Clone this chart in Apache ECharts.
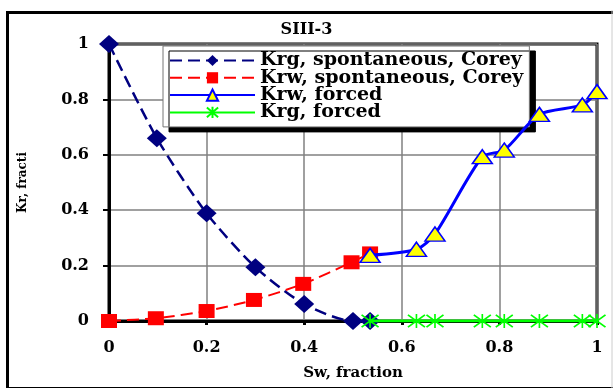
<!DOCTYPE html>
<html><head><meta charset="utf-8">
<script src="https://cdn.jsdelivr.net/npm/echarts@6/dist/echarts.min.js"></script>
<style>html,body{margin:0;padding:0;background:#fff}#c{width:613px;height:388px}</style>
</head><body><div id="c"></div>
<script>
var titleText = 'SIII-3';
var xName = 'Sw, fraction';
var yName = 'Kr, fracti';
var seriesNames = ['Krg, spontaneous, Corey', 'Krw, spontaneous, Corey', 'Krw, forced', 'Krg, forced'];
var xTicks = [0, 0.2, 0.4, 0.6, 0.8, 1];
var yTicks = [0, 0.2, 0.4, 0.6, 0.8, 1];

var krgSpontX = [0, 0.098, 0.2, 0.3, 0.4, 0.5, 0.535];
var krgSpontY = [1, 0.66, 0.389, 0.194, 0.061, 0.0, 0.0];
var krwSpontX = [0, 0.096, 0.2, 0.297, 0.398, 0.497, 0.535];
var krwSpontY = [0, 0.01, 0.036, 0.076, 0.134, 0.212, 0.244];
var krwForcedX = [0.535, 0.63, 0.668, 0.765, 0.81, 0.882, 0.97, 1.0];
var krwForcedY = [0.237, 0.259, 0.314, 0.593, 0.617, 0.746, 0.78, 0.828];
var krgForcedX = [0.535, 0.63, 0.668, 0.765, 0.81, 0.882, 0.97, 1.0];
var krgForcedY = [0, 0, 0, 0, 0, 0, 0, 0];

function pairs(xs, ys) { return xs.map(function (x, i) { return [x, ys[i]]; }); }

var FONT = 'DejaVu Serif';
var chart = echarts.init(document.getElementById('c'), null, {renderer: 'canvas'});
var star = 'path://M0,0L16,14M0,14L16,0M8,-1L8,15';

chart.setOption({
  animation: false,
  backgroundColor: '#fff',
  title: {
    text: titleText, left: 'center', top: 17,
    textStyle: {fontFamily: FONT, fontWeight: 'bold', fontSize: 16, color: '#000'}
  },
  grid: {left: 109, right: 16, top: 44, bottom: 67, show: true, borderColor: '#000', borderWidth: 3, containLabel: false},
  legend: {
    orient: 'vertical', left: 163, top: 46,
    padding: [5, 6, 5, 6], itemGap: -1.7, itemWidth: 85, itemHeight: 14,
    backgroundColor: '#fff', borderColor: '#777', borderWidth: 1,
    shadowColor: '#000', shadowBlur: 0, shadowOffsetX: 6, shadowOffsetY: 5,
    textStyle: {fontFamily: FONT, fontWeight: 'bold', fontSize: 19, color: '#000'},
    data: seriesNames
  },
  xAxis: {
    type: 'value', min: 0, max: 1, interval: 0.2,
    name: xName, nameLocation: 'middle', nameGap: 45,
    nameTextStyle: {fontFamily: FONT, fontWeight: 'bold', fontSize: 15, color: '#000'},
    axisLine: {show: true, lineStyle: {color: '#000', width: 3}},
    axisTick: {show: true, length: 4, lineStyle: {color: '#000', width: 3}},
    axisLabel: {fontFamily: FONT, fontWeight: 'bold', fontSize: 16, color: '#000', margin: 19,
      formatter: function (v) { return xTicks.indexOf(Math.round(v * 10) / 10) >= 0 ? String(Math.round(v * 10) / 10) : ''; }},
    splitLine: {show: true, lineStyle: {color: '#808080', width: 1.5}}
  },
  yAxis: {
    type: 'value', min: 0, max: 1, interval: 0.2,
    name: yName, nameLocation: 'middle', nameGap: 80, nameRotate: 90,
    nameTextStyle: {fontFamily: FONT, fontWeight: 'bold', fontSize: 12, color: '#000'},
    axisLine: {show: true, lineStyle: {color: '#000', width: 3}},
    axisTick: {show: true, length: 6, lineStyle: {color: '#000', width: 2}},
    axisLabel: {fontFamily: FONT, fontWeight: 'bold', fontSize: 16, color: '#000', margin: 20,
      formatter: function (v) { return yTicks.indexOf(Math.round(v * 10) / 10) >= 0 ? String(Math.round(v * 10) / 10) : ''; }},
    splitLine: {show: true, lineStyle: {color: '#808080', width: 1.5}}
  },
  series: [
    {name: seriesNames[0], type: 'line', data: pairs(krgSpontX, krgSpontY), smooth: 0.25,
      symbol: 'diamond', symbolSize: [20, 18],
      lineStyle: {color: '#000080', width: 2.5, type: [12, 6]},
      itemStyle: {color: '#000080'}, z: 2},
    {name: seriesNames[1], type: 'line', data: pairs(krwSpontX, krwSpontY), smooth: 0.25,
      symbol: 'rect', symbolSize: [16, 14],
      lineStyle: {color: '#ff0000', width: 2, type: [12, 6]},
      itemStyle: {color: '#ff0000'}, z: 3},
    {name: seriesNames[2], type: 'line', data: pairs(krwForcedX, krwForcedY), smooth: 0.25,
      symbol: 'triangle', symbolSize: [20, 14],
      lineStyle: {color: '#0000ff', width: 3},
      itemStyle: {color: '#ffff00', borderColor: '#0000ff', borderWidth: 1.5}, z: 4},
    {name: seriesNames[3], type: 'line', data: pairs(krgForcedX, krgForcedY),
      symbol: star, symbolSize: [17, 14],
      lineStyle: {color: '#00ff00', width: 3},
      itemStyle: {color: 'rgba(0,0,0,0)', borderColor: '#00ff00', borderWidth: 1.5}, z: 5}
  ],
  graphic: [
    {type: 'rect', left: 5, top: 10, shape: {x: 0, y: 0, width: 640, height: 376},
      style: {fill: 'none', stroke: '#000', lineWidth: 3}, silent: true},
    {type: 'line', shape: {x1: 612, y1: 10, x2: 612, y2: 388}, style: {stroke: '#ccc', lineWidth: 1}, silent: true}
  ]
});
</script></body></html>
